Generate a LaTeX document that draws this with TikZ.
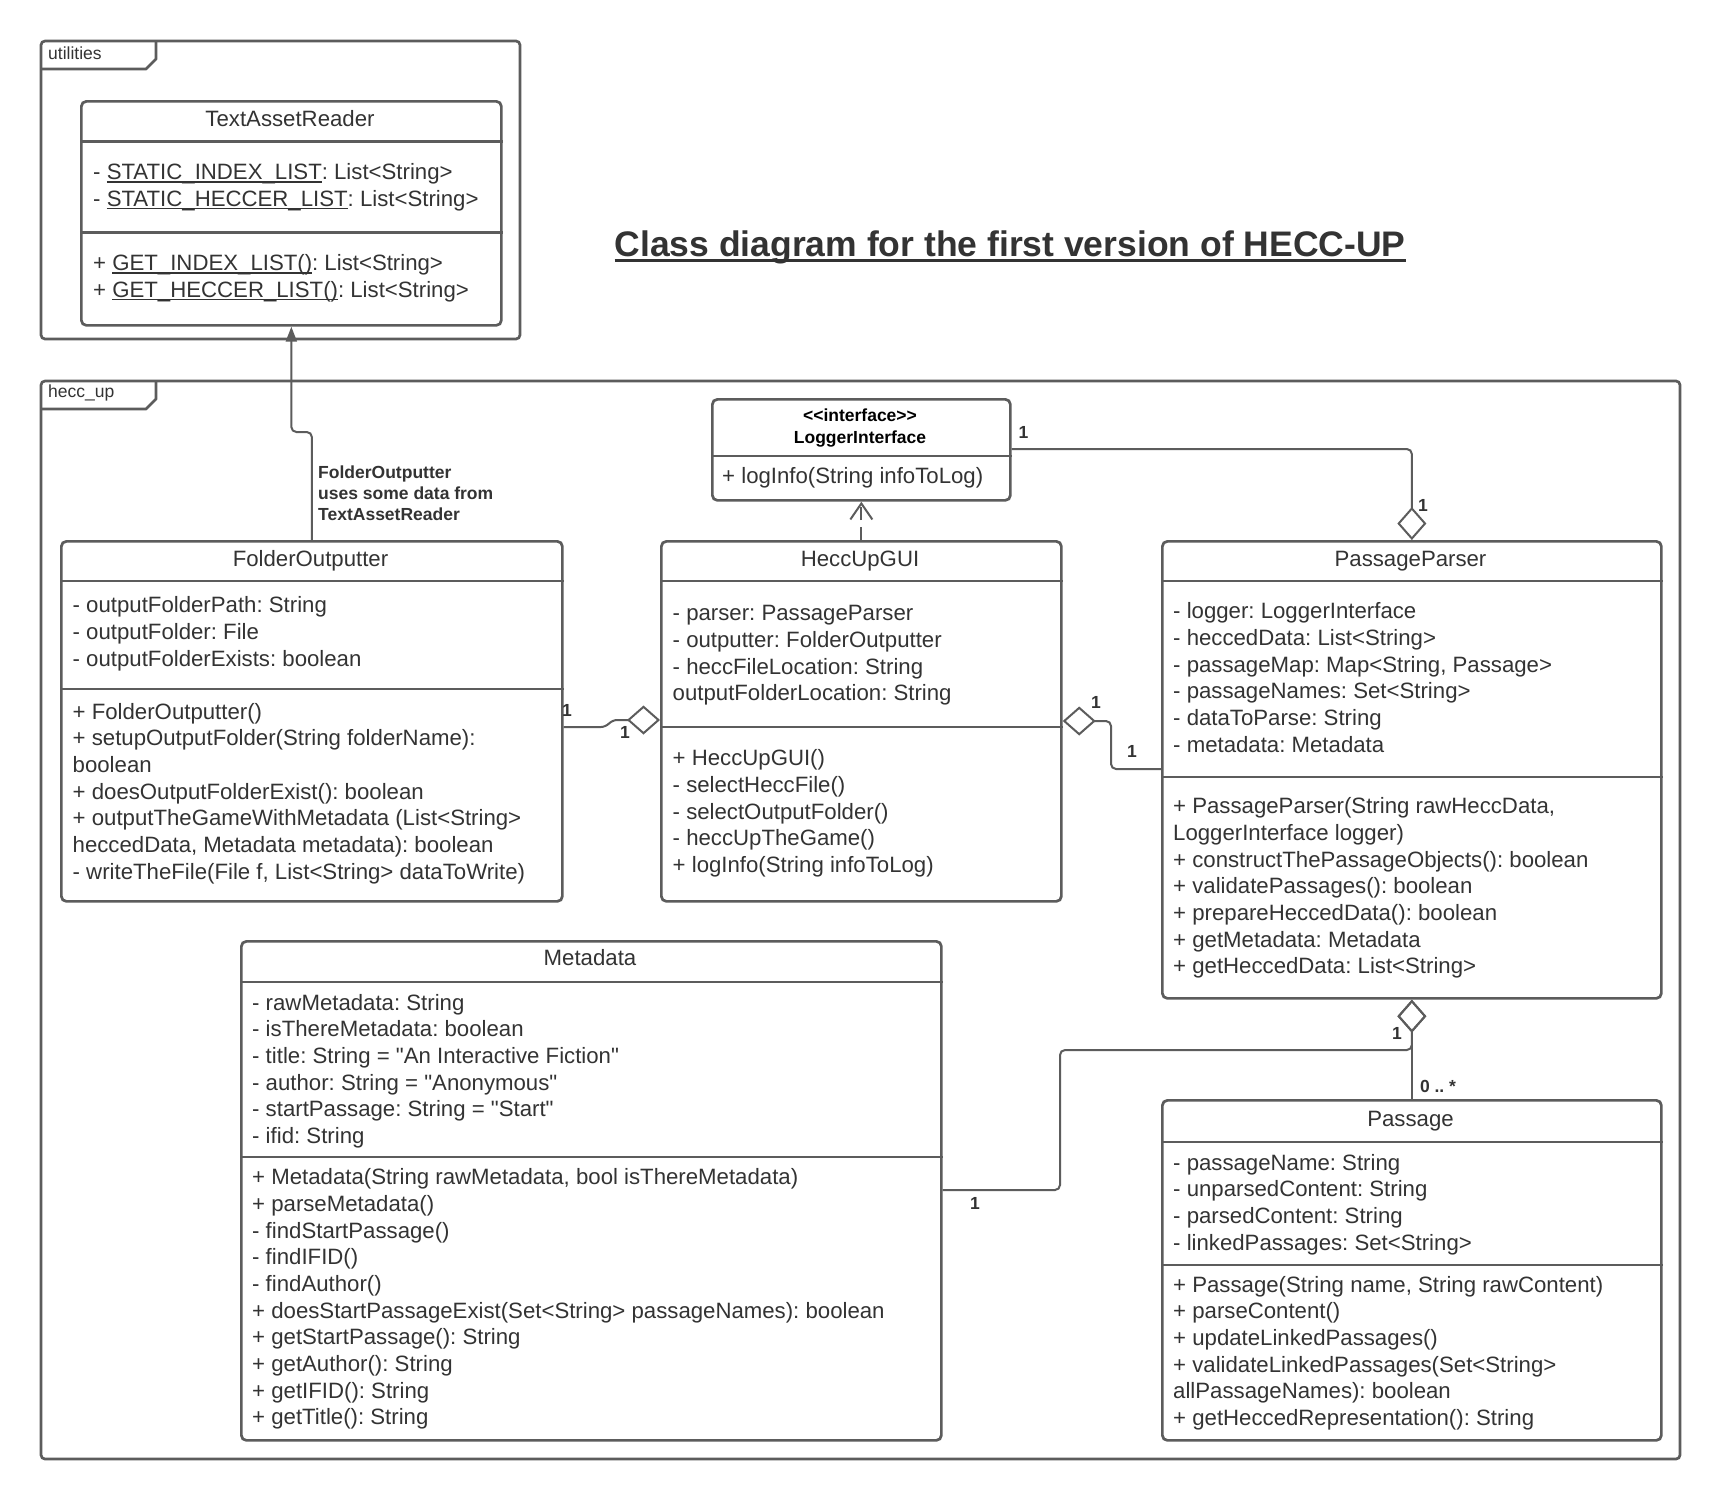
\documentclass[tikz,border=0pt]{standalone}
\usepackage{fontspec}
\setmainfont{Liberation Sans}
\usetikzlibrary{arrows.meta}
\definecolor{lc}{RGB}{92,92,92}
\definecolor{tc}{RGB}{51,51,51}
\frenchspacing
\newsavebox\myulbox
\newcommand\uln[1]{\sbox\myulbox{#1}\rlap{\rule[-3pt]{\wd\myulbox}{1.3pt}}\usebox\myulbox}
\newcommand\ttlul[1]{\sbox\myulbox{#1}\rlap{\rule[-5.8pt]{\wd\myulbox}{3pt}}\usebox\myulbox}
\newcommand\bodyfont{\fontsize{22.2}{26.67}\selectfont\frenchspacing}
\newcommand\lblfont{\fontsize{17.5}{21}\selectfont\bfseries}
\newcommand\tabfont{\fontsize{17.5}{21}\selectfont}
\newcommand\dq{\textquotedbl}
\tikzset{
  frame/.style={draw=lc, line width=2.7pt, rounded corners=4pt},
  cls/.style={draw=lc, line width=2.7pt, rounded corners=5pt, inner sep=0pt, anchor=north west, fill=white},
  divider/.style={draw=lc, line width=2.7pt},
  conn/.style={draw=lc, line width=2pt, rounded corners=5pt},
  txt/.style={inner sep=0pt, anchor=north west, align=left, text=tc, font=\bodyfont},
  cname/.style={inner sep=0pt, anchor=base, text=tc, font=\bodyfont},
  lbl/.style={inner sep=0pt, text=tc, font=\lblfont},
  tablbl/.style={inner sep=0pt, anchor=west, text=tc, font=\tabfont},
  agg/.style={-{Diamond[open, length=33pt, width=29pt, line width=2pt]}},
}
\begin{document}
\begin{tikzpicture}[x=1pt, y=-1pt]
\useasboundingbox (0,0) rectangle (1720,1500);
\fill[white] (0,0) rectangle (1720,1500);

% ---------- frames ----------
\draw[frame] (41,41) rectangle (520,339);
\draw[draw=lc, line width=2.7pt, line join=round] (41,69) -- (146,69) -- (156,59) -- (156,41);
\node[tablbl] (tabutil) at (48,53) {utilities};

\draw[frame] (41,381) rectangle (1680,1459);
\draw[draw=lc, line width=2.7pt, line join=round] (41,409) -- (146,409) -- (156,399) -- (156,381);
\node[tablbl] (tabhecc) at (48,393) {hecc\_up};

% ---------- title ----------
\node[inner sep=0pt, anchor=base, text=tc, font=\fontsize{35.5}{40}\selectfont\bfseries] (title) at (1010,256)
  {\ttlul{Class diagram for the first version of HECC-UP}};

% ---------- TextAssetReader ----------
\node[cls, minimum width=420pt, minimum height=224pt] (tar) at (80,100) {};
\draw[divider] (tar.west |- 0,141.5) -- (tar.east |- 0,141.5);
\draw[divider] (tar.west |- 0,232.6) -- (tar.east |- 0,232.6);
\node[cname] (tarn) at (290,126) {TextAssetReader};
\node[txt] (tara) at (93,160.8) {\strut- \uln{STATIC\_INDEX\_LIST}: List<String>\\- \uln{STATIC\_HECCER\_LIST}: List<String>};
\node[txt] (tarm) at (93,251.8) {\strut+ \uln{GET\_INDEX\_LIST()}: List<String>\\+ \uln{GET\_HECCER\_LIST()}: List<String>};

% ---------- LoggerInterface ----------
\node[cls, minimum width=298pt, minimum height=101pt] (li) at (711,398) {};
\draw[divider] (li.west |- 0,456) -- (li.east |- 0,456);
\node[inner sep=0pt, anchor=base, text=black, font=\lblfont] (lis) at (860,421) {<{}<interface>{}>};
\node[inner sep=0pt, anchor=base, text=black, font=\lblfont] (lin) at (860,443) {LoggerInterface};
\node[txt] (lim) at (722,464.8) {\strut+ logInfo(String infoToLog)};

% ---------- FolderOutputter ----------
\node[cls, minimum width=501pt, minimum height=360pt] (fo) at (60,540) {};
\draw[divider] (fo.west |- 0,581) -- (fo.east |- 0,581);
\draw[divider] (fo.west |- 0,689) -- (fo.east |- 0,689);
\node[cname] (fon) at (310.5,566) {FolderOutputter};
\node[txt] (foa) at (72.5,594) {\strut- outputFolderPath: String\\- outputFolder: File\\- outputFolderExists: boolean};
\node[txt] (fom) at (72.5,700.3) {\strut+ FolderOutputter()\\+ setupOutputFolder(String folderName):\\boolean\\+ doesOutputFolderExist(): boolean\\+ outputTheGameWithMetadata (List<String>\\heccedData, Metadata metadata): boolean\\- writeTheFile(File f, List<String> dataToWrite)};

% ---------- HeccUpGUI ----------
\node[cls, minimum width=400pt, minimum height=360pt] (hg) at (660,540) {};
\draw[divider] (hg.west |- 0,581) -- (hg.east |- 0,581);
\draw[divider] (hg.west |- 0,727) -- (hg.east |- 0,727);
\node[cname] (hgn) at (860,566) {HeccUpGUI};
\node[txt] (hga) at (672.5,601.8) {\strut- parser: PassageParser\\- outputter: FolderOutputter\\- heccFileLocation: String\\outputFolderLocation: String};
\node[txt] (hgm) at (672.5,746.8) {\strut+ HeccUpGUI()\\- selectHeccFile()\\- selectOutputFolder()\\- heccUpTheGame()\\+ logInfo(String infoToLog)};

% ---------- PassageParser ----------
\node[cls, minimum width=499pt, minimum height=457pt] (pp) at (1161,540) {};
\draw[divider] (pp.west |- 0,581) -- (pp.east |- 0,581);
\draw[divider] (pp.west |- 0,777) -- (pp.east |- 0,777);
\node[cname] (ppn) at (1410.5,566) {PassageParser};
\node[txt] (ppa) at (1173,599.8) {\strut- logger: LoggerInterface\\- heccedData: List<String>\\- passageMap: Map<String, Passage>\\- passageNames: Set<String>\\- dataToParse: String\\- metadata: Metadata};
\node[txt] (ppm) at (1173,794.8) {\strut+ PassageParser(String rawHeccData,\\LoggerInterface logger)\\+ constructThePassageObjects(): boolean\\+ validatePassages(): boolean\\+ prepareHeccedData(): boolean\\+ getMetadata: Metadata\\+ getHeccedData: List<String>};

% ---------- Metadata ----------
\node[cls, minimum width=700pt, minimum height=499pt] (md) at (240,940) {};
\draw[divider] (md.west |- 0,982) -- (md.east |- 0,982);
\draw[divider] (md.west |- 0,1157) -- (md.east |- 0,1157);
\node[cname] (mdn) at (590,965) {Metadata};
\node[txt] (mda) at (252,991.3) {\strut- rawMetadata: String\\- isThereMetadata: boolean\\- title: String = \dq An Interactive Fiction\dq\\- author: String = \dq Anonymous\dq\\- startPassage: String = \dq Start\dq\\- ifid: String};
\node[txt] (mdm) at (252,1165.8) {\strut+ Metadata(String rawMetadata, bool isThereMetadata)\\+ parseMetadata()\\- findStartPassage()\\- findIFID()\\- findAuthor()\\+ doesStartPassageExist(Set<String> passageNames): boolean\\+ getStartPassage(): String\\+ getAuthor(): String\\+ getIFID(): String\\+ getTitle(): String};

% ---------- Passage ----------
\node[cls, minimum width=499pt, minimum height=340pt] (pa) at (1161,1099) {};
\draw[divider] (pa.west |- 0,1142) -- (pa.east |- 0,1142);
\draw[divider] (pa.west |- 0,1265) -- (pa.east |- 0,1265);
\node[cname] (pan) at (1410.5,1126) {Passage};
\node[txt] (paa) at (1173,1151.3) {\strut- passageName: String\\- unparsedContent: String\\- parsedContent: String\\- linkedPassages: Set<String>};
\node[txt] (pam) at (1173,1273.3) {\strut+ Passage(String name, String rawContent)\\+ parseContent()\\+ updateLinkedPassages()\\+ validateLinkedPassages(Set<String>\\allPassageNames): boolean\\+ getHeccedRepresentation(): String};

% ---------- connectors ----------
\draw[conn, -{Triangle[length=15pt, width=11pt]}] (fo.north) -- (fo.north |- 0,432) -- (tar.south |- 0,432) -- (tar.south);
\node[lbl, anchor=north west, align=left] (folbl) at (318,463.3) {\strut FolderOutputter\\uses some data from\\TextAssetReader};

\draw[conn, dash pattern=on 13pt off 7pt, -{Straight Barb[length=16pt, width=22pt, line width=2pt]}] (hg.north) -- (li.south);

\draw[conn, agg] (li.east |- 0,449) -| (pp.north);
\node[lbl] (l1) at (1023.5,432) {1};
\node[lbl] (l2) at (1423,505) {1};

\draw[conn, agg] (fo.east |- 0,727) -- (606,727) -- (612,720) -- (hg.west |- 0,720);
\node[lbl] (l3) at (567,710) {1};
\node[lbl] (l4) at (625,732) {1};

\draw[conn, agg] (pp.west |- 0,769) -| (1111,721) -- (hg.east |- 0,721);
\node[lbl] (l5) at (1096,702) {1};
\node[lbl] (l6) at (1132,751) {1};

\draw[conn, agg] (pa.north) -- (pp.south);
\draw[conn, agg] (md.east |- 0,1190) -| (1060,1050) -| (pp.south);
\node[lbl] (l7) at (1397,1033) {1};
\node[lbl] (l8) at (1438,1086) {0 .. *};
\node[lbl] (l9) at (975,1203) {1};
\end{tikzpicture}
\end{document}
